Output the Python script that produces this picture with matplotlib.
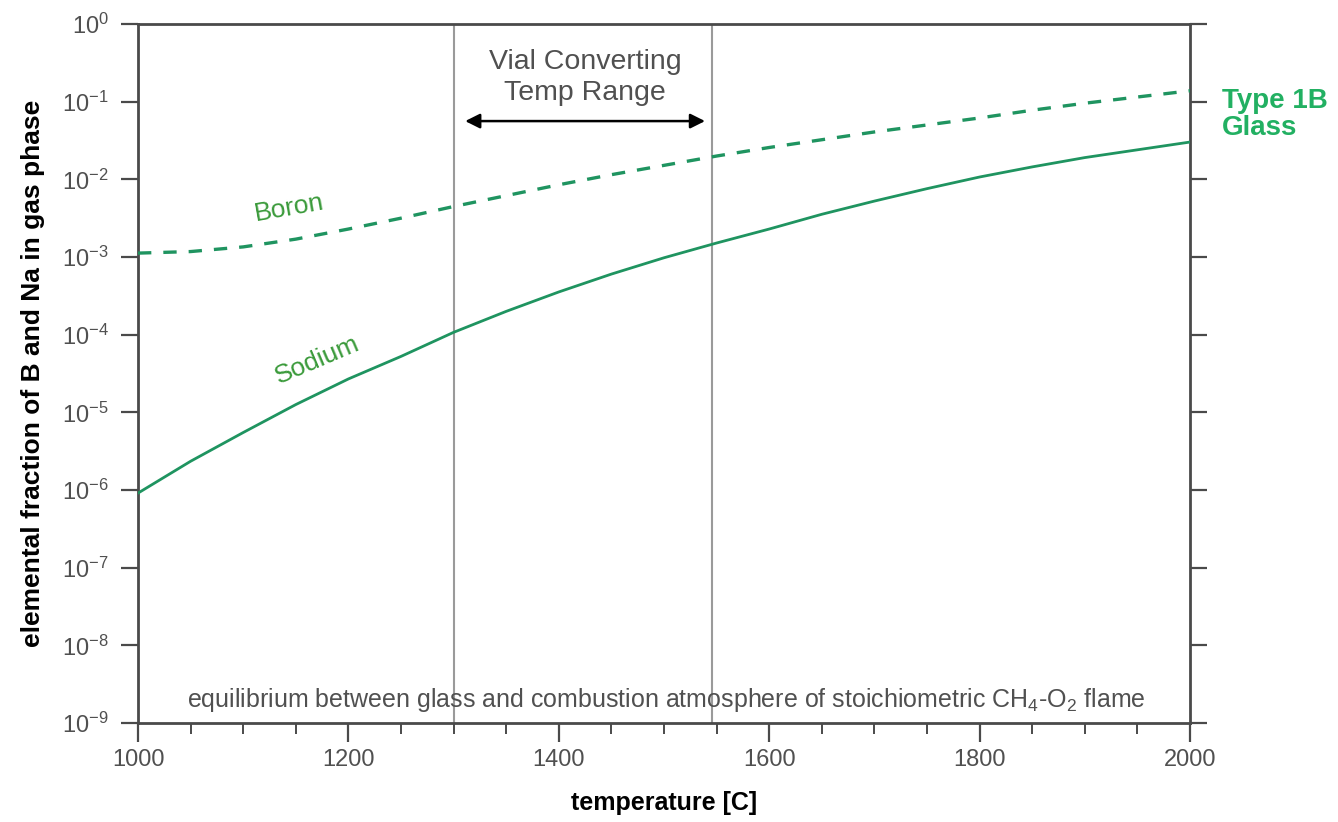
import matplotlib
matplotlib.use("Agg")
import matplotlib.pyplot as plt
import numpy as np
from matplotlib.ticker import FixedLocator, MultipleLocator, FixedFormatter

plt.rcParams['font.family'] = ['Liberation Sans', 'DejaVu Sans']
plt.rcParams['mathtext.fontset'] = 'custom'
plt.rcParams['mathtext.rm'] = 'Liberation Sans'
plt.rcParams['mathtext.it'] = 'Liberation Sans:italic'
plt.rcParams['mathtext.bf'] = 'Liberation Sans:bold'

# ---- data ----
temp = [1000, 1050, 1100, 1150, 1200, 1250, 1300, 1350, 1400, 1450, 1500,
        1550, 1600, 1650, 1700, 1750, 1800, 1850, 1900, 1950, 2000]
sodium_log = [-6.04, -5.63, -5.26, -4.90, -4.57, -4.28, -3.97, -3.70, -3.45,
              -3.22, -3.01, -2.82, -2.64, -2.45, -2.28, -2.12, -1.97, -1.84,
              -1.72, -1.62, -1.52]
boron_log = [-2.95, -2.93, -2.87, -2.77, -2.64, -2.50, -2.35, -2.21, -2.07,
             -1.94, -1.82, -1.70, -1.59, -1.49, -1.39, -1.30, -1.21, -1.11,
             -1.02, -0.94, -0.86]
sodium = [10 ** v for v in sodium_log]
boron = [10 ** v for v in boron_log]

vial_range = [1300, 1546]
arrow_span = [1311, 1539]
arrow_y = 10 ** -1.25

ytick_exps = [0, -1, -2, -3, -4, -5, -6, -7, -8, -9]
ytick_labels = [r'$\mathregular{10^{%d}}$' % e for e in ytick_exps]
xticks_major = [1000, 1200, 1400, 1600, 1800, 2000]
xtick_labels = ['1000', '1200', '1400', '1600', '1800', '2000']

line_green = '#1f9460'
label_green = '#3a9a3a'
type_green = '#22b062'
axis_grey = '#4a4a4a'
text_grey = '#505050'

fig = plt.figure(figsize=(13.38, 8.22), dpi=100)
ax = fig.add_axes([138 / 1338, 1 - 723 / 822, (1190 - 138) / 1338, (723 - 24) / 822])

ax.set_yscale('log')
ax.set_xlim(1000, 2000)
ax.set_ylim(1e-9, 1)

# vertical range lines
for xv in vial_range:
    ax.axvline(xv, color='#9a9a9a', lw=1.5, zorder=1)

ax.plot(temp, sodium, color=line_green, lw=2.0, zorder=3)
ax.plot(temp, boron, color=line_green, lw=2.4, dashes=(4, 3.6), zorder=3)

# arrow
ax.annotate('', xy=(arrow_span[1], arrow_y), xytext=(arrow_span[0], arrow_y),
            arrowprops=dict(arrowstyle='<|-|>', color='black', lw=1.8,
                            mutation_scale=22, shrinkA=0, shrinkB=0))
ax.text(1425, 10 ** -0.69, 'Vial Converting\nTemp Range', ha='center', va='center',
        fontsize=20.5, color=text_grey, linespacing=1.28)

ax.text(1144, 10 ** -2.37, 'Boron', ha='center', va='center', fontsize=19,
        color=label_green, rotation=10)
ax.text(1170, 10 ** -4.33, 'Sodium', ha='center', va='center', fontsize=19,
        color=label_green, rotation=23)
ax.text(2030, 10 ** -1.17, 'Type 1B\nGlass', ha='left', va='center', fontsize=20,
        color=type_green, fontweight='bold', linespacing=1.05)

ax.text(1502, 10 ** -8.7, r'equilibrium between glass and combustion atmosphere of stoichiometric CH$_4$-O$_2$ flame',
        ha='center', va='center', fontsize=18, color=text_grey)

# ticks
ax.yaxis.set_major_locator(FixedLocator([10.0 ** e for e in ytick_exps]))
ax.yaxis.set_major_formatter(FixedFormatter(ytick_labels))
ax.yaxis.set_minor_locator(FixedLocator([]))
ax.tick_params(axis='y', which='major', direction='out', length=12, width=1.6,
               color=axis_grey, labelsize=17, labelcolor=text_grey, pad=9,
               left=True, right=True, labelright=False)
ax.xaxis.set_major_locator(FixedLocator(xticks_major))
ax.xaxis.set_major_formatter(FixedFormatter(xtick_labels))
ax.xaxis.set_minor_locator(MultipleLocator(50))
ax.tick_params(axis='x', which='major', direction='out', length=14, width=1.6,
               color=axis_grey, labelsize=17, labelcolor=text_grey, pad=5,
               bottom=True, top=False)
ax.tick_params(axis='x', which='minor', direction='out', length=8, width=1.4,
               color=axis_grey, bottom=True, top=False)

for s in ax.spines.values():
    s.set_color(axis_grey)
    s.set_linewidth(2.0)

ax.set_ylabel('elemental fraction of B and Na in gas phase', fontsize=19,
              fontweight='bold', color='black', labelpad=12)
ax.set_xlabel('temperature [C]', fontsize=18, fontweight='bold', color='black',
              labelpad=14)

fig.savefig('out.png', dpi=100)
